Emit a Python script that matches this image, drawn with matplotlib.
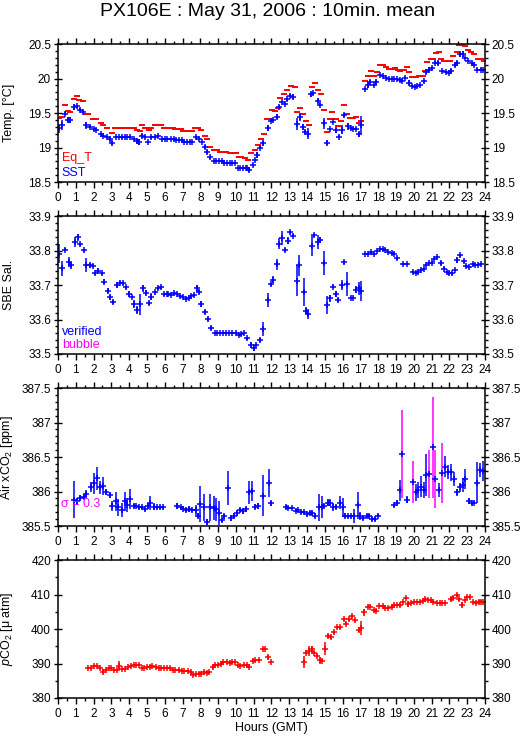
import numpy as np
import matplotlib
matplotlib.use("Agg")
import matplotlib.pyplot as plt
from matplotlib.ticker import MultipleLocator, FuncFormatter

plt.rcParams['font.family'] = ['Liberation Sans', 'DejaVu Sans']
plt.rcParams['mathtext.fontset'] = 'custom'
plt.rcParams['mathtext.rm'] = 'Liberation Sans'
plt.rcParams['mathtext.it'] = 'Liberation Sans:italic'

# ---- data (hours GMT) ----
# equilibrator temperature
eqt_h = [0.05, 0.2, 0.4, 0.55, 0.7, 0.88, 1.05, 1.2, 1.4, 1.55, 1.7, 1.95,
         2.15, 2.4, 2.55, 2.75, 3.05, 3.2, 3.45, 3.6, 3.8, 4.0, 4.15, 4.3,
         4.45, 4.6, 4.75, 4.9, 5.1, 5.25, 5.45, 5.6, 5.8, 5.95, 6.1, 6.3,
         6.45, 6.6, 6.75, 6.9, 7.05, 7.2, 7.4, 7.55, 7.7, 7.85, 8.05, 8.25,
         8.4, 8.55, 8.75, 8.95, 9.1, 9.3, 9.45, 9.65, 9.85, 10.0, 10.15, 10.3,
         10.5, 10.7, 10.85, 11.05, 11.25, 11.4, 11.6, 11.75, 11.9, 12.05, 12.2, 12.35,
         12.5, 12.7, 12.9, 13.1, 13.3, 13.45, 13.6, 13.75, 13.95, 14.1, 14.25, 14.45,
         14.6, 14.8, 14.95, 15.1, 15.3, 15.4, 15.6, 15.75, 15.9, 16.1, 16.25, 16.4,
         16.6, 16.75, 16.9, 17.05, 17.25, 17.45, 17.6, 17.75, 17.95, 18.1, 18.25, 18.45,
         18.6, 18.8, 18.95, 19.1, 19.25, 19.45, 19.6, 19.75, 19.9, 20.1, 20.3, 20.5,
         20.65, 20.75, 20.95, 21.1, 21.25, 21.4, 21.55, 21.7, 21.9, 22.05, 22.2, 22.4,
         22.55, 22.7, 22.9, 23.05, 23.2, 23.4, 23.6, 23.8, 23.92]
eqt_v = [19.43, 19.44, 19.62, 19.53, 19.52, 19.71, 19.75, 19.69, 19.67, 19.49, 19.48, 19.42,
         19.42, 19.36, 19.32, 19.29, 19.21, 19.28, 19.28, 19.29, 19.29, 19.29, 19.28, 19.28,
         19.25, 19.24, 19.32, 19.29, 19.26, 19.29, 19.32, 19.32, 19.32, 19.28, 19.28, 19.28,
         19.28, 19.27, 19.27, 19.27, 19.24, 19.24, 19.24, 19.24, 19.29, 19.29, 19.25, 19.17,
         19.12, 19.01, 18.96, 18.96, 18.94, 18.94, 18.94, 18.92, 18.92, 18.92, 18.87, 18.87,
         18.85, 18.82, 18.92, 18.97, 19.04, 19.12, 19.20, 19.42, 19.42, 19.55, 19.53, 19.58,
         19.72, 19.77, 19.84, 19.89, 19.88, 19.52, 19.57, 19.49, 19.39, 19.32, 19.88, 19.93,
         19.84, 19.78, 19.55, 19.23, 19.42, 19.52, 19.42, 19.31, 19.39, 19.62, 19.48, 19.43,
         19.43, 19.44, 19.36, 19.39, 19.97, 20.04, 20.11, 20.04, 20.09, 20.19, 20.20, 20.17,
         20.14, 20.14, 20.15, 20.13, 20.11, 20.13, 20.17, 20.09, 20.03, 20.02, 20.04, 20.04,
         20.11, 20.24, 20.29, 20.29, 20.37, 20.38, 20.29, 20.25, 20.26, 20.26, 20.33, 20.39,
         20.48, 20.49, 20.47, 20.42, 20.39, 20.36, 20.29, 20.28, 20.26]

# sea surface temperature
sst_h = [0.05, 0.2, 0.4, 0.55, 0.7, 0.9, 1.05, 1.25, 1.4, 1.6, 1.8, 2.0,
         2.15, 2.4, 2.55, 2.75, 2.95, 3.05, 3.25, 3.45, 3.6, 3.75, 3.9, 4.05,
         4.25, 4.45, 4.55, 4.75, 4.9, 5.05, 5.25, 5.45, 5.6, 5.85, 6.0, 6.15,
         6.35, 6.5, 6.65, 6.8, 6.95, 7.1, 7.25, 7.4, 7.55, 7.75, 7.9, 8.1,
         8.25, 8.4, 8.55, 8.75, 8.9, 9.05, 9.2, 9.35, 9.5, 9.65, 9.8, 9.95,
         10.1, 10.25, 10.4, 10.55, 10.65, 10.75, 10.95, 11.05, 11.2, 11.35, 11.55, 11.8,
         11.95, 12.1, 12.3, 12.45, 12.6, 12.75, 12.9, 13.05, 13.2, 13.45, 13.6, 13.75,
         13.9, 14.05, 14.2, 14.35, 14.6, 14.75, 14.95, 15.1, 15.3, 15.45, 15.6, 15.8,
         15.95, 16.1, 16.3, 16.45, 16.6, 16.75, 16.9, 17.05, 17.25, 17.4, 17.55, 17.75,
         17.9, 18.1, 18.25, 18.45, 18.6, 18.75, 18.9, 19.05, 19.2, 19.35, 19.5, 19.75,
         19.9, 20.05, 20.2, 20.35, 20.55, 20.7, 20.85, 21.0, 21.2, 21.35, 21.6, 21.8,
         21.95, 22.1, 22.3, 22.45, 22.6, 22.75, 22.9, 23.05, 23.25, 23.4, 23.55, 23.75,
         23.9]
sst_v = [19.28, 19.33, 19.49, 19.40, 19.40, 19.59, 19.60, 19.55, 19.52, 19.32, 19.30, 19.27,
         19.26, 19.20, 19.17, 19.15, 19.12, 19.06, 19.16, 19.15, 19.15, 19.15, 19.15, 19.15,
         19.13, 19.09, 19.08, 19.17, 19.15, 19.08, 19.15, 19.15, 19.17, 19.13, 19.12, 19.12,
         19.12, 19.12, 19.11, 19.11, 19.11, 19.08, 19.08, 19.08, 19.08, 19.15, 19.13, 19.08,
         19.01, 18.94, 18.86, 18.81, 18.80, 18.80, 18.80, 18.78, 18.78, 18.78, 18.77, 18.77,
         18.71, 18.71, 18.71, 18.70, 18.70, 18.67, 18.75, 18.82, 18.89, 19.00, 19.06, 19.28,
         19.39, 19.40, 19.45, 19.59, 19.66, 19.63, 19.70, 19.75, 19.74, 19.34, 19.44, 19.30,
         19.22, 19.20, 19.77, 19.79, 19.68, 19.62, 19.35, 19.07, 19.27, 19.37, 19.25, 19.16,
         19.26, 19.47, 19.31, 19.28, 19.27, 19.27, 19.19, 19.33, 19.85, 19.90, 19.95, 19.90,
         19.95, 20.05, 20.04, 20.01, 20.00, 20.00, 20.00, 19.99, 19.98, 19.97, 20.01, 19.94,
         19.89, 19.88, 19.89, 19.90, 19.96, 20.10, 20.13, 20.15, 20.23, 20.23, 20.11, 20.10,
         20.08, 20.11, 20.19, 20.23, 20.35, 20.36, 20.30, 20.26, 20.23, 20.20, 20.13, 20.13,
         20.12]
sst_e = [0.065, 0.07, 0.02, 0.04, 0.04, 0.04, 0.02, 0.02, 0.02, 0.05, 0.02, 0.01,
         0.02, 0.01, 0.01, 0.01, 0.03, 0.03, 0.01, 0.01, 0.02, 0.01, 0.01, 0.01,
         0.01, 0.04, 0.04, 0.03, 0.01, 0.01, 0.02, 0.01, 0.01, 0.01, 0.01, 0.01,
         0.01, 0.01, 0.01, 0.01, 0.01, 0.01, 0.01, 0.01, 0.01, 0.02, 0.02, 0.02,
         0.03, 0.03, 0.02, 0.01, 0.01, 0.01, 0.01, 0.01, 0.01, 0.01, 0.01, 0.01,
         0.01, 0.01, 0.01, 0.01, 0.01, 0.03, 0.01, 0.01, 0.04, 0.02, 0.04, 0.04,
         0.01, 0.02, 0.04, 0.02, 0.02, 0.02, 0.02, 0.02, 0.03, 0.09, 0.06, 0.04,
         0.03, 0.08, 0.04, 0.02, 0.04, 0.02, 0.08, 0.04, 0.02, 0.02, 0.04, 0.02,
         0.06, 0.02, 0.05, 0.01, 0.01, 0.01, 0.04, 0.13, 0.01, 0.03, 0.03, 0.01,
         0.03, 0.01, 0.01, 0.01, 0.01, 0.01, 0.01, 0.01, 0.02, 0.02, 0.02, 0.04,
         0.01, 0.01, 0.01, 0.01, 0.02, 0.04, 0.04, 0.02, 0.02, 0.03, 0.02, 0.01,
         0.01, 0.03, 0.02, 0.02, 0.04, 0.04, 0.01, 0.01, 0.01, 0.01, 0.02, 0.02,
         0.01]

# SBE salinity
sal_h = [0.05, 0.2, 0.4, 0.6, 0.75, 0.95, 1.1, 1.25, 1.45, 1.6, 1.8, 1.95,
         2.1, 2.25, 2.45, 2.6, 2.8, 2.95, 3.1, 3.3, 3.5, 3.65, 3.85, 4.0,
         4.15, 4.25, 4.45, 4.6, 4.8, 4.95, 5.1, 5.25, 5.45, 5.6, 5.8, 5.95,
         6.1, 6.2, 6.35, 6.5, 6.7, 6.85, 7.0, 7.2, 7.35, 7.5, 7.65, 7.8,
         7.95, 8.05, 8.25, 8.45, 8.6, 8.8, 8.95, 9.1, 9.3, 9.45, 9.6, 9.8,
         10.0, 10.15, 10.3, 10.45, 10.65, 10.85, 11.0, 11.15, 11.35, 11.55, 11.8, 11.95,
         12.1, 12.3, 12.45, 12.6, 12.75, 12.95, 13.05, 13.2, 13.45, 13.55, 13.8, 13.95,
         14.05, 14.25, 14.4, 14.6, 14.75, 14.95, 15.1, 15.3, 15.45, 15.6, 15.75, 15.95,
         16.1, 16.25, 16.45, 16.6, 16.75, 16.9, 17.05, 17.25, 17.45, 17.6, 17.75, 17.95,
         18.1, 18.25, 18.4, 18.55, 18.75, 18.9, 19.05, 19.4, 19.6, 19.95, 20.1, 20.25,
         20.4, 20.55, 20.7, 20.85, 21.0, 21.15, 21.3, 21.5, 21.7, 21.85, 22.0, 22.15,
         22.3, 22.45, 22.6, 22.8, 22.95, 23.1, 23.3, 23.45, 23.6, 23.8]
sal_v = [33.791, 33.748, 33.803, 33.766, 33.757, 33.824, 33.838, 33.818, 33.801, 33.758, 33.757, 33.756,
         33.734, 33.742, 33.734, 33.710, 33.684, 33.664, 33.652, 33.700, 33.707, 33.705, 33.693, 33.674,
         33.664, 33.644, 33.628, 33.644, 33.690, 33.678, 33.648, 33.666, 33.679, 33.690, 33.693, 33.673,
         33.673, 33.673, 33.671, 33.676, 33.673, 33.668, 33.664, 33.660, 33.663, 33.667, 33.671, 33.690,
         33.680, 33.645, 33.621, 33.601, 33.575, 33.562, 33.562, 33.562, 33.562, 33.561, 33.561, 33.560,
         33.560, 33.556, 33.558, 33.562, 33.546, 33.526, 33.516, 33.526, 33.540, 33.573, 33.657, 33.702,
         33.716, 33.760, 33.820, 33.837, 33.801, 33.828, 33.853, 33.843, 33.712, 33.757, 33.679, 33.626,
         33.616, 33.813, 33.844, 33.825, 33.832, 33.764, 33.642, 33.662, 33.695, 33.674, 33.657, 33.700,
         33.766, 33.702, 33.662, 33.662, 33.686, 33.690, 33.683, 33.791, 33.791, 33.796, 33.791, 33.799,
         33.804, 33.804, 33.801, 33.796, 33.794, 33.791, 33.777, 33.760, 33.760, 33.739, 33.736, 33.737,
         33.743, 33.747, 33.757, 33.764, 33.765, 33.775, 33.780, 33.765, 33.747, 33.739, 33.734, 33.734,
         33.743, 33.772, 33.786, 33.769, 33.756, 33.753, 33.760, 33.758, 33.757, 33.760]
sal_e = [0.028, 0.023, 0.005, 0.015, 0.010, 0.015, 0.010, 0.005, 0.004, 0.020, 0.008, 0.004,
         0.004, 0.006, 0.004, 0.008, 0.008, 0.008, 0.006, 0.010, 0.004, 0.004, 0.004, 0.008,
         0.003, 0.012, 0.012, 0.030, 0.010, 0.008, 0.005, 0.010, 0.004, 0.004, 0.004, 0.004,
         0.003, 0.003, 0.003, 0.003, 0.003, 0.003, 0.003, 0.003, 0.003, 0.003, 0.004, 0.010,
         0.006, 0.010, 0.006, 0.006, 0.005, 0.002, 0.002, 0.002, 0.002, 0.002, 0.002, 0.002,
         0.002, 0.002, 0.002, 0.002, 0.004, 0.010, 0.006, 0.004, 0.005, 0.020, 0.020, 0.005,
         0.010, 0.015, 0.015, 0.020, 0.005, 0.010, 0.005, 0.005, 0.045, 0.030, 0.040, 0.010,
         0.015, 0.030, 0.005, 0.020, 0.008, 0.035, 0.025, 0.010, 0.005, 0.010, 0.005, 0.015,
         0.005, 0.035, 0.002, 0.002, 0.010, 0.020, 0.030, 0.003, 0.003, 0.003, 0.003, 0.003,
         0.002, 0.002, 0.002, 0.002, 0.002, 0.003, 0.005, 0.002, 0.002, 0.002, 0.002, 0.002,
         0.003, 0.003, 0.003, 0.004, 0.004, 0.003, 0.004, 0.006, 0.004, 0.003, 0.004, 0.004,
         0.003, 0.008, 0.004, 0.004, 0.003, 0.003, 0.003, 0.003, 0.003, 0.003]

# air xCO2, flag 1 = bubble
air_h = [0.9, 1.05, 1.25, 1.45, 1.6, 1.85, 2.0, 2.2, 2.35, 2.55, 2.7, 2.9,
         3.05, 3.25, 3.4, 3.6, 3.75, 3.9, 4.05, 4.25, 4.4, 4.55, 4.7, 4.9,
         5.05, 5.2, 5.4, 5.55, 5.75, 5.9, 6.7, 6.9, 7.05, 7.2, 7.35, 7.55,
         7.75, 7.85, 8.0, 8.2, 8.4, 8.55, 8.75, 8.9, 9.05, 9.2, 9.35, 9.55,
         9.7, 9.9, 10.05, 10.25, 10.4, 10.55, 10.75, 10.9, 11.05, 11.25, 11.5, 11.85,
         12.0, 12.8, 12.95, 13.15, 13.35, 13.5, 13.65, 13.8, 14.0, 14.15, 14.3, 14.45,
         14.65, 14.85, 14.95, 15.15, 15.3, 15.45, 15.65, 15.85, 16.0, 16.15, 16.3, 16.45,
         16.65, 16.85, 17.0, 17.15, 17.35, 17.5, 17.65, 17.8, 18.0, 18.9, 19.05, 19.2,
         19.35, 19.6, 19.95, 20.1, 20.25, 20.4, 20.55, 20.7, 20.85, 21.05, 21.2, 21.4,
         21.6, 21.75, 21.9, 22.1, 22.25, 22.45, 22.6, 22.75, 22.9, 23.1, 23.25, 23.4,
         23.55, 23.7, 23.9]
air_v = [385.88, 385.86, 385.91, 385.92, 385.97, 386.07, 386.12, 386.19, 386.06, 386.08, 385.99, 385.95,
         385.79, 385.86, 385.77, 385.73, 385.86, 385.80, 385.89, 385.79, 385.79, 385.77, 385.77, 385.74,
         385.79, 385.83, 385.78, 385.77, 385.77, 385.77, 385.79, 385.77, 385.75, 385.73, 385.75, 385.73,
         385.73, 385.65, 385.82, 385.77, 385.56, 385.77, 385.76, 385.74, 385.69, 385.59, 385.64, 386.05,
         385.62, 385.65, 385.69, 385.73, 385.72, 385.74, 385.99, 386.01, 385.78, 385.79, 385.94, 386.12,
         385.83, 385.77, 385.76, 385.76, 385.72, 385.73, 385.70, 385.70, 385.67, 385.69, 385.69, 385.65,
         385.77, 385.78, 385.79, 385.84, 385.84, 385.78, 385.78, 385.84, 385.77, 385.65, 385.64, 385.64,
         385.65, 385.80, 385.65, 385.62, 385.64, 385.64, 385.60, 385.60, 385.65, 385.80, 385.84, 386.02,
         386.54, 385.88, 386.14, 385.99, 386.02, 386.07, 386.02, 386.24, 386.25, 386.64, 386.18, 386.02,
         386.27, 386.36, 386.28, 386.28, 386.18, 385.99, 386.06, 386.10, 386.18, 385.86, 385.83, 385.84,
         386.13, 386.31, 386.30]
air_e = [0.27, 0.05, 0.04, 0.03, 0.05, 0.07, 0.15, 0.17, 0.10, 0.13, 0.04, 0.05,
         0.07, 0.14, 0.12, 0.10, 0.14, 0.10, 0.15, 0.03, 0.02, 0.02, 0.02, 0.02,
         0.05, 0.10, 0.05, 0.02, 0.02, 0.02, 0.04, 0.02, 0.02, 0.03, 0.04, 0.02,
         0.07, 0.04, 0.26, 0.20, 0.04, 0.20, 0.17, 0.16, 0.18, 0.03, 0.04, 0.25,
         0.04, 0.04, 0.04, 0.03, 0.04, 0.04, 0.17, 0.15, 0.04, 0.04, 0.30, 0.20,
         0.04, 0.03, 0.02, 0.02, 0.02, 0.02, 0.02, 0.02, 0.02, 0.03, 0.03, 0.04,
         0.20, 0.16, 0.03, 0.05, 0.05, 0.06, 0.03, 0.10, 0.14, 0.04, 0.02, 0.02,
         0.10, 0.20, 0.06, 0.03, 0.03, 0.03, 0.03, 0.03, 0.02, 0.02, 0.04, 0.15,
         0.64, 0.05, 0.31, 0.12, 0.12, 0.15, 0.12, 0.30, 0.35, 0.73, 0.42, 0.10,
         0.44, 0.15, 0.10, 0.12, 0.10, 0.05, 0.06, 0.10, 0.15, 0.04, 0.02, 0.02,
         0.30, 0.10, 0.15]
air_flag = [0] * 96 + [1, 0, 1, 0, 0, 0, 0, 0, 1, 1, 1, 0,
                       1, 0, 0, 0, 0, 0, 0, 0, 0, 0, 0, 0,
                       0, 0, 0]

# seawater pCO2
pco2_h = [1.7, 1.85, 2.05, 2.2, 2.35, 2.55, 2.7, 2.85, 3.0, 3.15, 3.3, 3.45,
          3.6, 3.75, 3.95, 4.1, 4.25, 4.4, 4.55, 4.7, 4.85, 5.0, 5.15, 5.3,
          5.5, 5.65, 5.8, 5.95, 6.1, 6.3, 6.45, 6.6, 6.8, 6.95, 7.1, 7.3,
          7.45, 7.6, 7.75, 7.9, 8.05, 8.2, 8.35, 8.5, 8.7, 8.85, 9.0, 9.15,
          9.3, 9.5, 9.65, 9.8, 9.95, 10.1, 10.25, 10.45, 10.6, 10.75, 10.95, 11.1,
          11.3, 11.5, 11.65, 11.8, 11.95, 13.8, 13.95, 14.1, 14.25, 14.4, 14.55, 14.7,
          14.85, 15.0, 15.2, 15.35, 15.5, 15.7, 15.85, 16.05, 16.2, 16.35, 16.55, 16.7,
          16.9, 17.05, 17.2, 17.4, 17.55, 17.75, 17.9, 18.05, 18.25, 18.4, 18.55, 18.75,
          18.9, 19.05, 19.2, 19.4, 19.55, 19.7, 19.85, 20.0, 20.2, 20.35, 20.5, 20.65,
          20.8, 20.95, 21.1, 21.3, 21.45, 21.6, 21.75, 22.1, 22.2, 22.4, 22.55, 22.7,
          22.85, 23.0, 23.15, 23.35, 23.5, 23.65, 23.8, 23.9]
pco2_v = [388.8, 388.6, 389.3, 389.2, 388.8, 387.6, 388.2, 388.8, 388.6, 388.1, 388.1, 389.4,
          388.3, 388.3, 388.9, 389.2, 389.7, 389.7, 389.5, 388.7, 388.7, 389.1, 389.1, 389.4,
          389.0, 388.6, 388.6, 388.6, 388.6, 388.6, 388.0, 388.0, 388.0, 387.8, 387.8, 387.8,
          387.4, 386.7, 386.9, 387.1, 387.1, 387.4, 387.3, 387.4, 389.0, 389.7, 389.7, 390.0,
          390.3, 390.3, 390.1, 390.3, 390.4, 389.6, 389.3, 389.5, 389.5, 389.1, 390.8, 390.9,
          391.1, 394.1, 394.1, 391.8, 390.5, 390.5, 393.1, 393.6, 394.1, 393.1, 392.3, 390.9,
          390.7, 394.3, 398.1, 397.6, 399.1, 400.5, 400.5, 402.8, 401.5, 402.8, 403.7, 402.5,
          399.6, 400.3, 404.9, 406.5, 406.5, 405.4, 405.2, 406.7, 406.7, 406.1, 406.1, 406.3,
          406.9, 407.1, 406.9, 407.9, 409.0, 407.3, 407.5, 407.9, 407.9, 407.9, 408.1, 408.8,
          408.5, 408.3, 407.9, 407.6, 407.6, 407.6, 407.6, 408.6, 409.0, 409.8, 408.6, 407.1,
          408.3, 409.2, 409.2, 407.9, 407.6, 407.9, 407.9, 407.9]
pco2_e = [0.3, 0.3, 0.4, 0.3, 0.3, 0.7, 0.3, 0.3, 0.3, 0.3, 0.3, 1.2,
          0.3, 0.3, 0.3, 0.3, 0.3, 0.3, 0.3, 0.3, 0.3, 0.3, 0.3, 0.3,
          0.3, 0.3, 0.3, 0.3, 0.3, 0.3, 0.3, 0.3, 0.3, 0.3, 0.3, 0.3,
          0.3, 0.3, 0.3, 0.3, 0.5, 0.3, 0.3, 0.3, 0.5, 0.3, 0.3, 0.3,
          0.3, 0.3, 0.3, 0.3, 0.3, 0.3, 0.3, 0.3, 0.3, 0.3, 0.3, 0.3,
          0.3, 0.3, 0.3, 0.8, 0.3, 1.8, 0.4, 1.5, 1.0, 0.4, 0.4, 1.0,
          0.4, 1.8, 0.6, 0.4, 0.4, 0.4, 0.4, 0.4, 0.4, 0.4, 0.4, 0.4,
          0.6, 2.0, 1.0, 0.4, 0.4, 0.4, 0.4, 0.3, 0.3, 0.3, 0.3, 0.3,
          0.3, 0.3, 0.6, 0.3, 0.4, 0.8, 0.3, 0.3, 0.3, 0.3, 0.3, 0.3,
          0.3, 0.3, 0.3, 0.3, 0.3, 0.3, 0.3, 0.5, 0.5, 0.4, 0.4, 0.8,
          0.3, 0.3, 0.3, 0.3, 0.3, 0.5, 0.4, 0.3]

MS = 4.2     # '+' marker size (pt)
LWX = 1.1    # stroke of crosses and error bars
RED, BLUE, MAG = '#ff0000', '#0000ff', '#ff00ff'
FS = 8.5


def crosses(ax, h, v, e, color, ecolor=None):
    h = np.asarray(h)
    v = np.asarray(v)
    e = np.asarray(e)
    ax.vlines(h, v - e, v + e, colors=ecolor if ecolor is not None else color, lw=LWX)
    ax.plot(h, v, ls='none', marker='+', ms=MS, mew=LWX, color=color)


def style(ax, ylim, major, minor, label):
    ax.set_xlim(0, 24)
    ax.set_ylim(*ylim)
    ax.xaxis.set_major_locator(MultipleLocator(1))
    ax.xaxis.set_minor_locator(MultipleLocator(0.5))
    ax.yaxis.set_major_locator(MultipleLocator(major))
    ax.yaxis.set_minor_locator(MultipleLocator(minor))
    ax.tick_params(axis='x', which='both', top=True, bottom=True, direction='out',
                   labelsize=FS, pad=3)
    ax.tick_params(axis='x', which='major', length=4, width=1)
    ax.tick_params(axis='x', which='minor', length=2.2, width=1)
    ax.tick_params(axis='y', which='both', left=True, right=True, labelleft=True,
                   labelright=True, labelsize=FS, pad=2)
    ax.tick_params(axis='y', which='major', direction='inout', length=6, width=1)
    ax.tick_params(axis='y', which='minor', direction='out', length=2.5, width=1)
    for s in ax.spines.values():
        s.set_linewidth(1.1)
    ax.set_ylabel(label, fontsize=9)
    ax.yaxis.set_label_coords(-0.1, 0.5)


fig = plt.figure(figsize=(5.29, 7.39), dpi=100)
L, W, H = 0.1096, 0.8072, 0.1866
ax1 = fig.add_axes([L, 0.7537, W, H])
ax2 = fig.add_axes([L, 0.5210, W, H])
ax3 = fig.add_axes([L, 0.2882, W, H])
ax4 = fig.add_axes([L, 0.0555, W, H])

# temperatures
ax1.plot(eqt_h, eqt_v, ls='none', marker='_', ms=MS + 0.3, mew=1.4, color=RED)
crosses(ax1, sst_h, sst_v, sst_e, BLUE)
style(ax1, (18.5, 20.5), 0.5, 0.1, 'Temp. [°C]')
ax1.yaxis.set_major_formatter(FuncFormatter(lambda x, p: f'{x:g}'))
ax1.text(0.009, 0.175, 'Eq_T', color=RED, fontsize=FS + 0.5, va='center', transform=ax1.transAxes)
ax1.text(0.009, 0.066, 'SST', color=BLUE, fontsize=FS + 0.5, va='center', transform=ax1.transAxes)

# salinity
crosses(ax2, sal_h, sal_v, sal_e, BLUE)
style(ax2, (33.5, 33.9), 0.1, 0.02, 'SBE Sal.')
ax2.yaxis.set_major_formatter(FuncFormatter(lambda x, p: f'{x:.1f}'))
ax2.text(0.009, 0.16, 'verified', color=BLUE, fontsize=FS + 0.5, va='center', transform=ax2.transAxes)
ax2.text(0.009, 0.065, 'bubble', color=MAG, fontsize=FS + 0.5, va='center', transform=ax2.transAxes)

# air xCO2
fl = np.asarray(air_flag) == 1
ah, av, ae = np.asarray(air_h), np.asarray(air_v), np.asarray(air_e)
crosses(ax3, ah[~fl], av[~fl], ae[~fl], BLUE)
crosses(ax3, ah[fl], av[fl], ae[fl], BLUE, ecolor=MAG)
style(ax3, (385.5, 387.5), 0.5, 0.1, 'Air xCO$_2$ [ppm]')
ax3.yaxis.set_major_formatter(FuncFormatter(lambda x, p: f'{x:g}'))
ax3.text(0.006, 0.16, 'σ = 0.3', color=MAG, fontsize=FS + 0.5, va='center', transform=ax3.transAxes)

# pCO2
crosses(ax4, pco2_h, pco2_v, pco2_e, RED)
style(ax4, (380, 420), 10, 5, '$p$CO$_2$ [μ atm]')
ax4.set_xlabel('Hours (GMT)', fontsize=9, labelpad=2)

fig.text(0.505, 0.978, 'PX106E : May 31, 2006 : 10min. mean', ha='center', va='baseline',
         fontsize=14)

fig.savefig('out.png', dpi=100)
